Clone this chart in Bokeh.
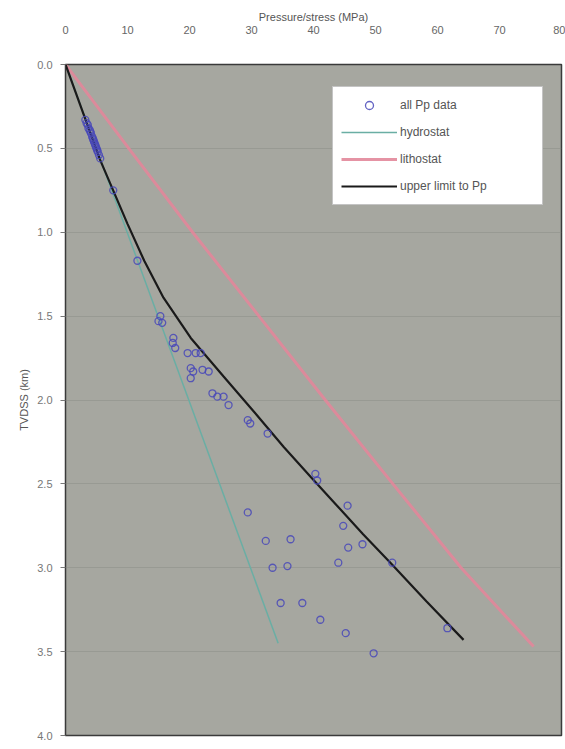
from bokeh.plotting import figure
from bokeh.models import Range1d, Legend, LegendItem, FixedTicker, NumeralTickFormatter, LinearAxis
from bokeh.embed import file_html
from bokeh.resources import INLINE

# Pore pressure data (MPa) vs depth (km)
pp_pressure = [3.2, 3.4, 3.6, 3.7, 3.9, 4.0, 4.1, 4.3, 4.4, 4.5, 4.6, 4.7, 4.8, 4.9, 5.0, 5.1, 5.2, 5.4, 5.6,
               7.7, 11.6,
               15.3, 15.0, 15.6, 17.4, 17.3, 17.7, 19.7, 21.0, 21.8, 20.2, 20.6, 22.1, 23.1, 20.2,
               23.7, 24.5, 25.5, 26.3, 29.4, 29.8, 32.6,
               40.3, 40.6, 45.5, 29.4, 44.8, 32.3, 36.3, 45.6, 47.9, 44.0, 33.4, 35.8, 34.7, 38.2,
               41.1, 45.2, 52.7, 49.7, 61.6]
pp_depth = [0.33, 0.35, 0.36, 0.38, 0.39, 0.40, 0.41, 0.43, 0.44, 0.45, 0.46, 0.47, 0.48, 0.49, 0.50, 0.51, 0.52, 0.54, 0.56,
            0.75, 1.17,
            1.50, 1.53, 1.54, 1.63, 1.66, 1.69, 1.72, 1.72, 1.72, 1.81, 1.83, 1.82, 1.83, 1.87,
            1.96, 1.98, 1.98, 2.03, 2.12, 2.14, 2.20,
            2.44, 2.48, 2.63, 2.67, 2.75, 2.84, 2.83, 2.88, 2.86, 2.97, 3.00, 2.99, 3.21, 3.21,
            3.31, 3.39, 2.97, 3.51, 3.36]

hydro_pressure = [0.0, 34.3]
hydro_depth = [0.0, 3.45]

litho_pressure = [0.0, 10.2, 20.5, 31.2, 41.9, 52.8, 63.8, 75.5]
litho_depth = [0.0, 0.5, 1.0, 1.5, 2.0, 2.5, 3.0, 3.47]

upper_pressure = [0.0, 5.6, 10.0, 12.7, 15.8, 20.2, 25.5, 30.4, 35.2, 39.6, 43.8, 48.0, 52.4, 58.2, 64.2]
upper_depth = [0.0, 0.57, 0.95, 1.17, 1.39, 1.63, 1.86, 2.07, 2.28, 2.46, 2.63, 2.80, 2.97, 3.2, 3.43]

x_ticks = [0, 10, 20, 30, 40, 50, 60, 70, 80]
y_ticks = [0.0, 0.5, 1.0, 1.5, 2.0, 2.5, 3.0, 3.5, 4.0]

FONT = "Liberation Sans"

p = figure(width=565, height=744, output_backend="svg", toolbar_location=None,
           x_range=Range1d(0, 80), y_range=Range1d(4.0, 0.0),
           x_axis_location=None, y_axis_location="left",
           min_border_left=65, min_border_right=4, min_border_top=64, min_border_bottom=9)

p.background_fill_color = "#a6a7a0"
p.border_fill_color = "white"
p.outline_line_color = "#3a3a3a"
p.outline_line_width = 1.5

xaxis = LinearAxis(axis_label="Pressure/stress (MPa)", ticker=FixedTicker(ticks=x_ticks))
xaxis.axis_line_color = None
xaxis.major_tick_line_color = None
xaxis.minor_tick_line_color = None
xaxis.major_label_standoff = 25
xaxis.axis_label_standoff = 0
xaxis.major_label_text_font = FONT
xaxis.major_label_text_font_size = "11px"
xaxis.major_label_text_color = "#666666"
xaxis.axis_label_text_font = FONT
xaxis.axis_label_text_font_size = "11px"
xaxis.axis_label_text_font_style = "normal"
xaxis.axis_label_text_color = "#555555"
p.add_layout(xaxis, "above")

yaxis = p.yaxis[0]
yaxis.ticker = FixedTicker(ticks=y_ticks)
yaxis.formatter = NumeralTickFormatter(format="0.0")
yaxis.axis_label = "TVDSS (km)"
yaxis.axis_line_color = "#3a3a3a"
yaxis.major_tick_line_color = "#777777"
yaxis.major_tick_out = 5
yaxis.major_tick_in = 0
yaxis.minor_tick_line_color = None
yaxis.major_label_text_font = FONT
yaxis.major_label_text_font_size = "11px"
yaxis.major_label_text_color = "#777777"
yaxis.major_label_standoff = 8
yaxis.axis_label_text_font = FONT
yaxis.axis_label_text_font_size = "11px"
yaxis.axis_label_text_font_style = "normal"
yaxis.axis_label_text_color = "#555555"
yaxis.axis_label_standoff = 4

p.xgrid.grid_line_color = None
p.ygrid.ticker = FixedTicker(ticks=y_ticks)
p.ygrid.grid_line_color = "#85867f"
p.ygrid.grid_line_alpha = 0.4
p.ygrid.grid_line_width = 1

r_lith = p.line(litho_pressure, litho_depth, line_color="#e2879a", line_width=3, line_alpha=0.9)
r_hyd = p.line(hydro_pressure, hydro_depth, line_color="#6aaea4", line_width=1.5)
r_up = p.line(upper_pressure, upper_depth, line_color="#1a1a1a", line_width=2.2)
r_pp = p.scatter(pp_pressure, pp_depth, marker="circle", size=7, fill_color=None,
                 line_color="#4848b8", line_width=1.3, line_alpha=0.85)

legend = Legend(items=[
    LegendItem(label="all Pp data", renderers=[r_pp]),
    LegendItem(label="hydrostat", renderers=[r_hyd]),
    LegendItem(label="lithostat", renderers=[r_lith]),
    LegendItem(label="upper limit to Pp", renderers=[r_up]),
], location=(267, 530))
legend.background_fill_color = "white"
legend.background_fill_alpha = 1.0
legend.border_line_color = "#8a8a8a"
legend.border_line_width = 1
legend.padding = 8
legend.margin = 0
legend.spacing = 7
legend.glyph_width = 56
legend.glyph_height = 20
legend.label_standoff = 3
legend.label_width = 134
legend.label_text_font = FONT
legend.label_text_font_size = "12px"
legend.label_text_color = "#555555"
p.add_layout(legend, "center")

open("out.html", "w").write(file_html(p, INLINE))
